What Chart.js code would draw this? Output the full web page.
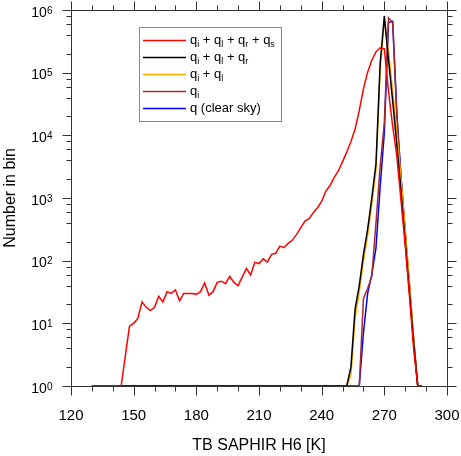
<!DOCTYPE html>
<html lang="en">
<head>
<meta charset="UTF-8">
<title>TB SAPHIR H6 histogram</title>
<script src="https://cdn.jsdelivr.net/npm/chart.js"></script>
<style>
  html, body { margin: 0; padding: 0; background: #fff; overflow: hidden; }
  #wrap { width: 461px; height: 456px; }
</style>
</head>
<body>
<div id="wrap"><canvas id="histChart"></canvas></div>
<script>
// bin centres [K]
const tb = [
  130,132,134,136,138,140,142,144,146,148,
  150,152,154,156,158,160,162,164,166,168,
  170,172,174,176,178,180,182,184,186,188,
  190,192,194,196,198,200,202,204,206,208,
  210,212,214,216,218,220,222,224,226,228,
  230,232,234,236,238,240,242,244,246,248,
  250,252,254,256,258,260,262,264,266,268,
  270,272,274,276,278,280,282,284,286,288
];

// qi + ql + qr + qs
const allHydro = [
  1,1,1,1,1,1,1,1,3,9,
  10,12,22,18,16,18,27,22,32,30,
  34,23,30,30,30,29,32,44,28,32,
  45,47,43,56,45,40,55,75,59,94,
  90,107,95,126,131,171,161,189,213,263,
  336,429,468,583,700,880,1290,1580,2140,2700,
  3800,5400,7900,12600,25000,55000,102000,158000,215000,250000,
  240000,50000,14000,4600,900,175,28,4,1,1
];

// qi + ql + qr
const iceLiqRain = [
  1,1,1,1,1,1,1,1,1,1,
  1,1,1,1,1,1,1,1,1,1,
  1,1,1,1,1,1,1,1,1,1,
  1,1,1,1,1,1,1,1,1,1,
  1,1,1,1,1,1,1,1,1,1,
  1,1,1,1,1,1,1,1,1,1,
  1,1,2,17,40,126,316,1000,3500,140000,
  800000,160000,35000,7000,1250,200,32,5,1,1
];

// qi + ql
const iceLiq = [
  1,1,1,1,1,1,1,1,1,1,
  1,1,1,1,1,1,1,1,1,1,
  1,1,1,1,1,1,1,1,1,1,
  1,1,1,1,1,1,1,1,1,1,
  1,1,1,1,1,1,1,1,1,1,
  1,1,1,1,1,1,1,1,1,1,
  1,1,1.5,12,32,100,250,800,2800,110000,
  680000,220000,50000,11000,2000,316,45,6,1,1
];

// qi
const iceOnly = [
  1,1,1,1,1,1,1,1,1,1,
  1,1,1,1,1,1,1,1,1,1,
  1,1,1,1,1,1,1,1,1,1,
  1,1,1,1,1,1,1,1,1,1,
  1,1,1,1,1,1,1,1,1,1,
  1,1,1,1,1,1,1,1,1,1,
  1,1,1,1,1,25,36,56,400,3200,
  16000,750000,630000,20000,2000,280,40,5.6,1,1
];

// q (clear sky)
const clearSky = [
  1,1,1,1,1,1,1,1,1,1,
  1,1,1,1,1,1,1,1,1,1,
  1,1,1,1,1,1,1,1,1,1,
  1,1,1,1,1,1,1,1,1,1,
  1,1,1,1,1,1,1,1,1,1,
  1,1,1,1,1,1,1,1,1,1,
  1,1,1,1,1,7,30,60,160,1500,
  11000,630000,660000,22000,2200,280,40,5.6,1,1
];

const xTicks = [120, 150, 180, 210, 240, 270, 300];
const yExponents = [0, 1, 2, 3, 4, 5, 6];

const seriesColors = ['#ff0000', '#000000', '#ffa500', '#a52a2a', '#0000ff'];
// [text, isSubscript]
const legendLabels = [
  [['q', 0], ['i', 1], [' + q', 0], ['l', 1], [' + q', 0], ['r', 1], [' + q', 0], ['s', 1]],
  [['q', 0], ['i', 1], [' + q', 0], ['l', 1], [' + q', 0], ['r', 1]],
  [['q', 0], ['i', 1], [' + q', 0], ['l', 1]],
  [['q', 0], ['i', 1]],
  [['q (clear sky)', 0]]
];

const FONT = '"Liberation Sans", Arial, Helvetica, sans-serif';

function pts(vals) {
  return tb.map((t, i) => ({ x: t, y: vals[i] }));
}

function seg(ctx, x1, y1, x2, y2) {
  ctx.beginPath();
  ctx.moveTo(x1, y1);
  ctx.lineTo(x2, y2);
  ctx.stroke();
}

// frame, outward ticks, y labels with exponents, legend
const decorations = {
  id: 'decorations',
  afterDraw(chart) {
    const { ctx, chartArea: a, scales: { x, y } } = chart;
    const L = Math.round(a.left) + 0.5, R = Math.round(a.right) + 0.5;
    const T = Math.round(a.top) + 0.5, B = Math.round(a.bottom) + 0.5;
    ctx.save();
    ctx.strokeStyle = '#333';
    ctx.lineWidth = 1;
    ctx.strokeRect(L, T, R - L, B - T);

    for (let v = 120; v <= 300; v += 10) {
      const px = Math.round(x.getPixelForValue(v)) + 0.5;
      const len = xTicks.includes(v) ? 9 : 5;
      seg(ctx, px, B, px, B + len);
      seg(ctx, px, T, px, T - len);
    }
    yExponents.forEach(k => {
      const py = Math.round(y.getPixelForValue(Math.pow(10, k))) + 0.5;
      seg(ctx, L, py, L - 9, py);
      seg(ctx, R, py, R + 9, py);
      if (k < 6) {
        [2, 4, 6, 8].forEach(m => {
          const pm = Math.round(y.getPixelForValue(m * Math.pow(10, k))) + 0.5;
          seg(ctx, L, pm, L - 5, pm);
          seg(ctx, R, pm, R + 5, pm);
        });
      }
      const ty = y.getPixelForValue(Math.pow(10, k));
      ctx.fillStyle = '#000';
      ctx.textBaseline = 'alphabetic';
      ctx.textAlign = 'right';
      ctx.font = '14px ' + FONT;
      ctx.fillText('10', 46.7, ty + 6.5);
      ctx.textAlign = 'left';
      ctx.font = '10px ' + FONT;
      ctx.fillText(String(k), 47, ty + 3.5);
    });

    // legend
    ctx.strokeStyle = '#888';
    ctx.lineWidth = 1;
    ctx.strokeRect(139.5, 27.5, 142, 94);
    legendLabels.forEach((parts, i) => {
      const ry = 40.5 + i * 17;
      ctx.strokeStyle = seriesColors[i];
      ctx.lineWidth = 1.5;
      seg(ctx, 143, ry, 186, ry);
      let tx = 190;
      ctx.fillStyle = '#000';
      ctx.textAlign = 'left';
      parts.forEach(([t, sub]) => {
        ctx.font = (sub ? '9px ' : '13px ') + FONT;
        ctx.fillText(t, tx, ry + (sub ? 6.5 : 3.5));
        tx += ctx.measureText(t).width;
      });
    });
    ctx.restore();
  }
};

const seriesData = [allHydro, iceLiqRain, iceLiq, iceOnly, clearSky];

new Chart(document.getElementById('histChart'), {
  type: 'line',
  data: {
    datasets: seriesData.map((vals, i) => ({
      data: pts(vals),
      borderColor: seriesColors[i],
      backgroundColor: seriesColors[i],
      borderWidth: 1.5,
      pointRadius: 0,
      tension: 0,
      clip: false
    }))
  },
  options: {
    responsive: true,
    maintainAspectRatio: false,
    animation: false,
    layout: { padding: { top: 10, right: 14, left: 0, bottom: 0 } },
    plugins: { legend: { display: false }, tooltip: { enabled: false } },
    scales: {
      x: {
        type: 'linear',
        min: 120,
        max: 300,
        afterBuildTicks: s => { s.ticks = xTicks.map(v => ({ value: v })); },
        afterFit: s => { s.height = 70; s.paddingLeft = 0; s.paddingRight = 0; },
        grid: { display: false },
        border: { display: false },
        ticks: { font: { family: FONT, size: 15 }, color: '#000', padding: 13, maxRotation: 0, autoSkip: false },
        title: { display: true, text: 'TB SAPHIR H6 [K]', color: '#000', font: { family: FONT, size: 16 }, padding: { top: 0, bottom: 1 } }
      },
      y: {
        type: 'logarithmic',
        min: 1,
        max: 1e6,
        afterFit: s => { s.width = 71; s.paddingTop = 0; s.paddingBottom = 0; },
        grid: { display: false },
        border: { display: false },
        ticks: { display: false },
        title: { display: true, text: 'Number in bin', color: '#000', font: { family: FONT, size: 16 }, padding: { top: 1, bottom: 0 } }
      }
    }
  },
  plugins: [decorations]
});
</script>
</body>
</html>
